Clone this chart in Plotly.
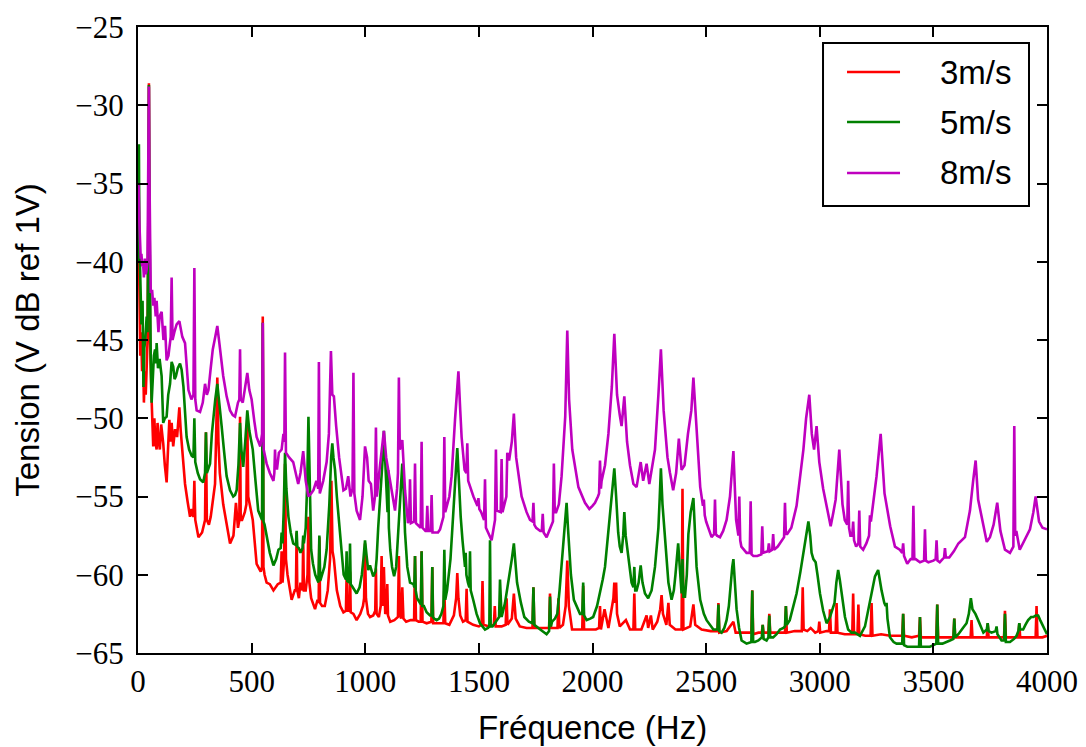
import plotly.graph_objects as go

# ---------------- data (frequency Hz, level dB ref 1V) ----------------
series_names = ["3m/s", "5m/s", "8m/s"]
series_colors = ["#ff0000", "#008000", "#bf00bf"]

pts_3ms = [(0,-40.0),(3,-35.6),(6,-41.5),(10,-46.0),(14,-44.5),(18,-47.0),(22,-45.6),(26,-49.0),(30,-47.0),(34,-48.5),(38,-46.8),(42,-45.0),(46,-36.0),(48,-28.6),(50,-36.0),(53,-45.0),(58,-48.0),(63,-50.5),(67,-51.8),(72,-50.0),(76,-51.5),(82,-52.0),(86,-50.3),(90,-51.3),(96,-52.0),(102,-50.4),(111,-51.6),(118,-53.0),(126,-54.1),(132,-52.0),(138,-50.1),(143,-51.5),(148,-50.3),(155,-51.8),(163,-50.7),(172,-51.2),(177,-50.2),(182,-49.3),(188,-50.8),(195,-52.0),(207,-54.2),(218,-55.3),(229,-56.3),(236,-55.8),(244,-56.3),(248,-54.0),(252,-56.5),(266,-57.6),(282,-57.3),(295,-56.5),(299,-50.9),(303,-56.5),(312,-56.8),(320,-56.3),(332,-55.0),(339,-54.2),(344,-51.0),(349,-47.4),(354,-51.5),(360,-53.5),(375,-55.5),(390,-56.9),(405,-58.0),(420,-57.5),(431,-55.4),(440,-57.0),(446,-56.5),(449,-49.9),(452,-56.5),(458,-56.5),(470,-56.0),(477,-55.5),(481,-49.9),(485,-55.0),(492,-55.5),(505,-56.5),(522,-59.3),(540,-59.8),(546,-59.5),(549,-43.5),(552,-59.5),(557,-60.0),(566,-60.5),(580,-60.6),(596,-61.0),(615,-60.6),(628,-60.5),(632,-58.5),(636,-60.5),(643,-59.0),(647,-52.9),(651,-59.0),(658,-60.0),(676,-61.6),(690,-61.0),(695,-61.0),(698,-57.3),(701,-61.0),(708,-61.5),(715,-60.5),(724,-61.0),(727,-57.8),(730,-61.0),(738,-61.0),(746,-60.0),(750,-56.3),(754,-60.5),(762,-61.5),(779,-62.2),(790,-61.6),(795,-61.8),(798,-57.6),(801,-61.8),(810,-62.0),(822,-62.0),(835,-61.0),(845,-59.0),(851,-54.0),(856,-58.5),(862,-59.0),(875,-61.0),(890,-62.0),(904,-62.4),(915,-62.3),(918,-60.0),(921,-62.3),(930,-62.3),(933,-59.8),(936,-62.4),(948,-62.5),(962,-62.9),(978,-62.5),(990,-62.0),(995,-61.5),(999,-58.0),(1003,-61.5),(1012,-62.5),(1021,-62.7),(1035,-62.6),(1044,-62.3),(1047,-59.6),(1050,-62.5),(1060,-62.7),(1068,-62.0),(1072,-58.8),(1076,-62.0),(1082,-59.5),(1088,-62.5),(1094,-62.3),(1097,-60.6),(1100,-62.6),(1110,-63.0),(1128,-62.9),(1144,-62.7),(1148,-58.8),(1152,-62.5),(1158,-62.8),(1163,-60.8),(1168,-62.8),(1180,-63.0),(1200,-62.9),(1215,-62.9),(1219,-58.8),(1223,-62.9),(1235,-63.0),(1244,-63.0),(1248,-58.5),(1252,-63.0),(1270,-63.1),(1291,-63.0),(1295,-59.5),(1299,-63.1),(1320,-63.1),(1344,-63.1),(1348,-60.9),(1352,-63.1),(1370,-63.2),(1390,-62.6),(1400,-61.5),(1405,-59.9),(1410,-61.5),(1418,-62.6),(1430,-63.0),(1442,-62.9),(1446,-60.9),(1450,-63.0),(1475,-63.2),(1500,-63.3),(1512,-63.2),(1516,-60.4),(1520,-63.2),(1545,-63.3),(1566,-63.2),(1570,-62.0),(1574,-63.3),(1600,-63.3),(1618,-63.2),(1622,-61.5),(1626,-63.2),(1645,-62.8),(1654,-61.2),(1662,-62.8),(1680,-63.3),(1710,-63.4),(1736,-63.4),(1740,-60.8),(1744,-63.4),(1775,-63.4),(1809,-63.4),(1813,-61.2),(1817,-63.4),(1846,-63.4),(1850,-61.5),(1854,-63.4),(1870,-63.2),(1882,-62.0),(1889,-59.1),(1896,-62.0),(1910,-63.5),(1935,-63.5),(1955,-63.5),(1959,-60.7),(1963,-63.5),(1990,-63.5),(2015,-63.5),(2029,-63.4),(2033,-62.0),(2037,-63.5),(2053,-62.2),(2070,-63.4),(2084,-62.3),(2092,-61.5),(2096,-60.5),(2100,-61.8),(2104,-60.5),(2108,-62.5),(2120,-63.3),(2147,-62.9),(2165,-63.5),(2180,-63.5),(2184,-61.2),(2188,-63.5),(2215,-63.5),(2238,-62.6),(2245,-63.4),(2257,-62.6),(2265,-63.5),(2285,-63.0),(2298,-62.2),(2304,-61.3),(2310,-62.5),(2325,-63.2),(2334,-61.8),(2340,-63.2),(2365,-63.5),(2392,-63.5),(2396,-54.5),(2400,-63.5),(2430,-63.3),(2444,-61.9),(2452,-63.2),(2480,-63.5),(2520,-63.6),(2550,-63.6),(2554,-61.8),(2558,-63.7),(2590,-63.6),(2620,-63.0),(2630,-63.7),(2665,-63.7),(2699,-63.7),(2703,-61.0),(2707,-63.8),(2730,-63.7),(2745,-63.7),(2749,-63.2),(2753,-63.7),(2774,-63.7),(2778,-62.5),(2782,-63.7),(2815,-63.7),(2847,-63.7),(2851,-62.0),(2855,-63.7),(2890,-63.6),(2921,-63.6),(2925,-60.8),(2929,-63.5),(2945,-63.6),(2960,-63.4),(2980,-63.7),(2994,-63.6),(2998,-63.0),(3002,-63.7),(3030,-63.6),(3041,-63.6),(3045,-62.2),(3049,-63.7),(3070,-63.7),(3074,-61.8),(3078,-63.7),(3110,-63.8),(3143,-63.8),(3147,-61.2),(3151,-63.8),(3166,-63.8),(3170,-61.9),(3174,-63.8),(3200,-63.9),(3224,-63.9),(3228,-61.8),(3232,-63.9),(3270,-63.8),(3310,-63.9),(3363,-63.9),(3367,-62.5),(3371,-63.9),(3405,-64.0),(3437,-63.9),(3441,-62.7),(3445,-64.0),(3480,-64.0),(3513,-64.0),(3517,-61.9),(3521,-64.0),(3555,-64.0),(3588,-64.0),(3592,-62.8),(3596,-64.0),(3630,-64.0),(3664,-64.0),(3668,-62.9),(3672,-64.0),(3700,-64.0),(3735,-64.0),(3739,-63.1),(3743,-64.0),(3780,-64.0),(3811,-64.0),(3815,-62.3),(3819,-64.0),(3850,-64.0),(3874,-64.0),(3878,-63.1),(3882,-64.0),(3920,-64.0),(3950,-64.0),(3954,-62.0),(3958,-64.0),(3980,-64.0),(4000,-63.9)]

pts_5ms = [(0,-40.0),(2,-36.0),(4,-32.5),(6,-38.5),(10,-41.0),(15,-44.0),(20,-42.5),(24,-48.0),(28,-45.5),(32,-45.0),(38,-43.5),(42,-44.5),(46,-36.0),(48,-28.7),(50,-36.0),(53,-43.0),(56,-46.0),(60,-49.0),(66,-47.5),(70,-46.0),(75,-45.6),(79,-46.5),(82,-45.2),(88,-46.8),(95,-46.2),(104,-47.3),(111,-50.3),(118,-50.0),(126,-49.9),(133,-48.5),(141,-47.8),(148,-46.4),(155,-46.7),(161,-47.5),(167,-47.3),(175,-46.8),(185,-46.5),(192,-46.9),(200,-48.0),(214,-51.2),(225,-52.0),(236,-52.4),(244,-52.5),(248,-50.0),(252,-52.8),(263,-53.5),(273,-53.9),(287,-54.1),(295,-53.5),(299,-50.9),(303,-53.5),(310,-53.2),(317,-52.9),(325,-51.0),(331,-49.9),(340,-48.8),(349,-47.8),(356,-49.0),(368,-50.5),(378,-52.0),(390,-53.7),(405,-54.6),(419,-55.0),(427,-54.9),(434,-54.6),(442,-53.0),(449,-50.3),(455,-52.0),(463,-53.1),(472,-51.5),(481,-49.5),(490,-50.8),(505,-52.0),(517,-54.0),(529,-55.9),(540,-56.3),(546,-56.5),(549,-43.9),(552,-56.6),(557,-56.8),(566,-57.5),(580,-58.6),(596,-59.4),(608,-59.0),(618,-58.4),(628,-58.3),(632,-57.3),(636,-58.0),(641,-56.0),(647,-52.2),(653,-54.5),(662,-56.3),(672,-57.3),(683,-58.0),(695,-58.1),(698,-57.2),(701,-58.2),(708,-58.3),(715,-58.6),(724,-58.3),(727,-57.5),(730,-58.0),(738,-57.0),(745,-54.0),(750,-49.9),(755,-54.5),(762,-58.4),(770,-59.3),(780,-60.0),(794,-60.5),(798,-57.5),(802,-60.4),(810,-60.0),(820,-59.5),(830,-58.4),(842,-55.5),(850,-52.5),(855,-51.6),(860,-52.5),(867,-53.3),(875,-55.0),(890,-57.6),(905,-60.0),(915,-60.3),(918,-58.5),(921,-60.4),(930,-60.5),(933,-58.0),(936,-60.6),(945,-60.8),(962,-61.2),(975,-60.8),(985,-60.0),(992,-59.0),(999,-57.8),(1006,-58.8),(1013,-59.7),(1021,-59.4),(1035,-60.1),(1045,-59.8),(1050,-59.0),(1057,-57.0),(1066,-55.0),(1072,-54.2),(1077,-52.5),(1082,-50.8),(1088,-52.5),(1094,-54.2),(1098,-56.0),(1101,-53.3),(1104,-57.0),(1110,-58.4),(1118,-59.5),(1127,-60.1),(1136,-59.5),(1145,-57.3),(1150,-56.0),(1156,-54.5),(1163,-52.9),(1170,-55.0),(1175,-57.3),(1185,-59.5),(1197,-60.5),(1212,-60.6),(1216,-60.8),(1219,-58.8),(1222,-61.0),(1228,-61.5),(1240,-61.8),(1245,-61.9),(1248,-58.5),(1251,-62.0),(1258,-62.0),(1270,-62.4),(1285,-62.6),(1292,-62.6),(1295,-59.5),(1298,-62.7),(1303,-62.8),(1314,-62.9),(1325,-62.8),(1335,-62.5),(1344,-62.0),(1348,-58.4),(1352,-61.6),(1360,-61.0),(1375,-59.0),(1388,-56.3),(1396,-54.0),(1405,-51.9),(1412,-54.0),(1420,-56.3),(1428,-57.8),(1435,-59.0),(1439,-59.5),(1442,-58.6),(1445,-60.0),(1452,-60.5),(1458,-60.8),(1461,-58.5),(1464,-61.0),(1475,-61.6),(1490,-62.5),(1505,-63.1),(1527,-63.5),(1540,-63.4),(1546,-63.3),(1549,-57.8),(1552,-63.3),(1560,-63.3),(1575,-63.0),(1589,-62.7),(1593,-60.3),(1597,-62.7),(1600,-62.7),(1615,-61.8),(1630,-60.5),(1645,-59.0),(1654,-58.0),(1660,-59.0),(1668,-60.5),(1685,-61.8),(1700,-62.7),(1720,-63.0),(1736,-63.1),(1740,-60.8),(1744,-63.2),(1770,-63.5),(1798,-63.8),(1809,-63.6),(1813,-61.4),(1817,-63.3),(1822,-63.0),(1835,-62.8),(1845,-62.5),(1855,-61.0),(1864,-59.5),(1875,-57.5),(1886,-55.4),(1892,-57.0),(1897,-58.4),(1905,-60.0),(1918,-61.6),(1935,-62.2),(1945,-62.5),(1955,-62.5),(1959,-60.5),(1963,-62.6),(1974,-62.9),(1990,-62.8),(2003,-62.7),(2020,-62.0),(2033,-61.2),(2045,-60.3),(2055,-59.5),(2068,-57.5),(2077,-56.3),(2088,-54.5),(2096,-53.2),(2104,-55.0),(2113,-57.3),(2120,-58.2),(2128,-58.6),(2135,-57.5),(2140,-56.0),(2146,-57.5),(2158,-59.0),(2172,-60.5),(2180,-60.8),(2184,-59.5),(2188,-61.0),(2194,-61.0),(2203,-60.5),(2212,-59.4),(2220,-60.5),(2231,-61.2),(2245,-61.5),(2260,-61.0),(2275,-59.5),(2290,-57.0),(2296,-55.0),(2301,-53.2),(2308,-55.5),(2319,-57.8),(2334,-60.5),(2348,-61.6),(2358,-61.0),(2365,-60.0),(2372,-59.0),(2377,-58.0),(2384,-59.5),(2392,-61.2),(2396,-59.0),(2400,-61.4),(2407,-61.4),(2415,-60.0),(2422,-57.4),(2432,-56.0),(2444,-55.1),(2450,-57.0),(2458,-59.5),(2474,-61.6),(2490,-62.5),(2502,-62.9),(2520,-63.3),(2532,-63.5),(2550,-63.5),(2554,-61.9),(2558,-63.6),(2568,-63.7),(2580,-63.4),(2590,-62.9),(2600,-62.0),(2608,-60.5),(2615,-59.5),(2620,-59.0),(2626,-60.5),(2634,-62.2),(2645,-63.4),(2656,-64.2),(2678,-64.4),(2699,-64.3),(2703,-61.0),(2707,-64.3),(2715,-64.3),(2730,-64.2),(2745,-64.0),(2749,-63.2),(2753,-64.1),(2766,-64.2),(2774,-64.0),(2778,-62.6),(2782,-64.0),(2795,-64.0),(2810,-63.8),(2825,-63.5),(2840,-63.4),(2847,-63.3),(2851,-62.0),(2855,-63.2),(2868,-62.9),(2885,-62.0),(2898,-61.2),(2915,-59.8),(2928,-58.6),(2940,-57.3),(2950,-56.6),(2958,-57.5),(2964,-58.6),(2972,-59.0),(2982,-59.2),(2990,-60.0),(3001,-61.2),(3015,-62.3),(3030,-63.1),(3045,-62.7),(3055,-62.3),(3065,-61.8),(3073,-60.5),(3081,-59.7),(3088,-60.3),(3096,-61.2),(3111,-62.7),(3125,-63.5),(3140,-63.7),(3155,-63.7),(3177,-63.9),(3199,-63.3),(3210,-62.5),(3221,-61.8),(3232,-61.0),(3243,-60.1),(3257,-59.7),(3265,-60.5),(3272,-61.0),(3284,-61.8),(3290,-62.0),(3294,-61.8),(3298,-62.8),(3309,-64.0),(3325,-64.3),(3338,-64.4),(3355,-64.4),(3363,-64.4),(3367,-62.5),(3371,-64.5),(3385,-64.6),(3397,-64.6),(3420,-64.6),(3437,-64.6),(3441,-62.7),(3445,-64.6),(3465,-64.6),(3485,-64.6),(3500,-64.5),(3513,-64.4),(3517,-61.9),(3521,-64.4),(3540,-64.4),(3560,-64.3),(3573,-64.2),(3588,-64.1),(3592,-62.8),(3596,-64.0),(3610,-63.8),(3630,-63.4),(3646,-63.1),(3656,-62.5),(3665,-61.5),(3672,-62.2),(3685,-62.5),(3697,-62.9),(3710,-63.4),(3720,-63.7),(3735,-63.5),(3739,-63.1),(3743,-63.6),(3756,-63.7),(3774,-63.6),(3778,-63.3),(3782,-63.8),(3800,-64.2),(3811,-64.2),(3815,-62.5),(3819,-64.3),(3837,-64.3),(3855,-64.1),(3866,-63.9),(3874,-63.6),(3878,-63.1),(3882,-63.5),(3895,-63.5),(3905,-63.2),(3917,-62.9),(3930,-62.7),(3940,-62.7),(3950,-62.6),(3961,-62.6),(3970,-62.9),(3976,-63.1),(3985,-63.3),(3991,-63.6),(4000,-63.8)]

pts_8ms = [(0,-35.0),(3,-35.2),(6,-37.5),(8,-38.5),(12,-39.8),(15,-39.5),(19,-40.3),(22,-40.0),(26,-41.0),(30,-39.8),(34,-40.8),(38,-40.5),(42,-40.0),(45,-34.0),(48,-28.8),(50,-34.0),(53,-39.0),(56,-42.0),(62,-41.8),(67,-42.8),(72,-42.3),(78,-43.5),(82,-42.5),(86,-44.0),(90,-44.5),(95,-43.5),(104,-43.2),(112,-45.0),(119,-44.1),(126,-46.3),(134,-46.0),(138,-45.5),(144,-44.8),(148,-41.0),(152,-45.0),(160,-44.5),(170,-44.0),(182,-43.8),(195,-44.8),(207,-45.2),(215,-47.0),(222,-48.2),(235,-48.8),(244,-48.5),(248,-40.4),(252,-48.8),(258,-49.5),(273,-49.6),(285,-49.0),(295,-47.8),(303,-48.5),(310,-48.2),(320,-46.8),(329,-45.6),(340,-44.8),(349,-44.1),(358,-45.2),(375,-47.3),(390,-48.6),(405,-49.5),(417,-49.8),(427,-49.9),(440,-49.0),(446,-48.8),(449,-45.6),(452,-48.8),(461,-49.0),(472,-48.0),(481,-47.1),(490,-48.2),(500,-48.8),(512,-50.2),(522,-51.2),(538,-51.8),(546,-51.0),(549,-43.9),(553,-52.0),(566,-52.9),(580,-53.5),(596,-54.0),(600,-53.5),(603,-52.0),(606,-53.2),(612,-53.2),(620,-52.2),(632,-52.0),(640,-51.0),(644,-51.5),(647,-45.8),(651,-52.2),(665,-52.5),(683,-52.8),(695,-53.5),(705,-54.2),(715,-53.5),(727,-52.1),(738,-54.0),(750,-55.0),(762,-54.8),(772,-54.6),(785,-54.0),(793,-54.5),(796,-46.4),(800,-54.8),(815,-54.0),(830,-52.8),(840,-51.0),(849,-45.7),(855,-48.5),(862,-48.6),(872,-50.5),(885,-52.5),(904,-54.6),(915,-54.5),(925,-53.7),(935,-55.0),(944,-54.5),(948,-47.1),(952,-54.8),(962,-55.9),(977,-56.5),(988,-55.0),(999,-51.8),(1008,-52.5),(1015,-54.0),(1025,-54.2),(1035,-55.9),(1043,-55.0),(1047,-50.6),(1051,-55.0),(1065,-53.0),(1082,-50.8),(1092,-52.5),(1101,-53.3),(1110,-54.1),(1131,-55.9),(1140,-54.5),(1144,-53.5),(1148,-47.4),(1152,-52.0),(1163,-51.4),(1175,-54.6),(1188,-56.7),(1193,-56.5),(1197,-53.9),(1201,-56.7),(1215,-56.6),(1219,-52.9),(1223,-56.7),(1240,-57.0),(1244,-57.0),(1248,-51.5),(1252,-57.0),(1265,-57.2),(1269,-57.2),(1273,-55.6),(1277,-57.2),(1288,-57.2),(1292,-54.9),(1296,-57.3),(1307,-57.3),(1320,-57.3),(1329,-57.1),(1340,-56.5),(1344,-56.3),(1348,-51.2),(1352,-56.0),(1370,-55.0),(1380,-53.7),(1395,-50.1),(1410,-47.0),(1418,-49.5),(1424,-51.2),(1437,-53.3),(1445,-53.5),(1449,-51.6),(1453,-54.0),(1476,-55.0),(1490,-55.5),(1494,-55.6),(1498,-55.1),(1502,-55.8),(1510,-56.0),(1523,-56.5),(1527,-53.9),(1531,-57.0),(1556,-57.8),(1571,-56.5),(1575,-52.0),(1579,-55.9),(1596,-56.0),(1600,-52.6),(1604,-56.0),(1621,-55.0),(1625,-52.2),(1633,-52.7),(1645,-51.5),(1654,-49.7),(1664,-52.5),(1688,-55.0),(1710,-56.0),(1725,-56.5),(1736,-56.6),(1740,-55.4),(1744,-56.8),(1752,-57.0),(1770,-57.2),(1777,-57.2),(1781,-56.1),(1785,-57.3),(1798,-57.6),(1815,-57.0),(1826,-56.6),(1830,-52.9),(1834,-56.0),(1840,-56.0),(1852,-55.5),(1864,-53.7),(1880,-49.9),(1889,-44.4),(1897,-48.8),(1911,-52.0),(1938,-54.4),(1967,-55.4),(1986,-55.8),(2000,-55.6),(2011,-55.4),(2024,-55.0),(2029,-54.8),(2033,-52.7),(2037,-54.5),(2040,-54.0),(2055,-53.0),(2070,-51.0),(2085,-48.0),(2096,-44.6),(2108,-48.5),(2120,-49.8),(2128,-50.5),(2140,-48.6),(2152,-51.5),(2165,-53.0),(2180,-54.2),(2194,-54.4),(2212,-52.8),(2223,-54.0),(2238,-52.9),(2250,-54.2),(2262,-53.2),(2275,-52.0),(2290,-48.5),(2301,-45.6),(2313,-49.5),(2330,-52.5),(2341,-53.5),(2355,-54.6),(2368,-53.5),(2380,-51.3),(2392,-53.3),(2405,-53.0),(2420,-51.0),(2435,-49.5),(2444,-47.4),(2458,-51.0),(2474,-54.4),(2486,-55.6),(2490,-55.2),(2494,-56.2),(2500,-56.6),(2524,-57.6),(2535,-57.4),(2539,-55.2),(2543,-57.4),(2548,-57.5),(2561,-57.6),(2575,-57.2),(2590,-56.5),(2605,-55.0),(2620,-52.1),(2632,-56.5),(2642,-57.5),(2646,-55.0),(2650,-57.8),(2655,-58.2),(2678,-58.6),(2692,-58.6),(2696,-55.3),(2700,-58.7),(2708,-58.8),(2725,-58.8),(2743,-58.7),(2747,-56.9),(2751,-58.6),(2772,-58.5),(2776,-58.0),(2780,-58.5),(2791,-58.4),(2795,-57.4),(2799,-58.4),(2815,-58.2),(2835,-57.8),(2843,-57.6),(2847,-55.4),(2851,-57.4),(2857,-57.4),(2875,-57.0),(2898,-55.6),(2915,-53.5),(2928,-52.0),(2940,-50.0),(2954,-48.5),(2965,-51.0),(2975,-52.0),(2986,-50.5),(2998,-52.8),(3015,-54.5),(3030,-55.6),(3048,-56.9),(3060,-56.0),(3070,-55.2),(3086,-52.0),(3100,-55.5),(3110,-56.5),(3121,-56.8),(3125,-54.0),(3129,-57.0),(3135,-57.5),(3143,-57.5),(3147,-56.6),(3151,-57.8),(3160,-58.2),(3170,-58.0),(3174,-55.9),(3178,-58.2),(3191,-58.4),(3205,-58.0),(3217,-57.5),(3221,-56.2),(3225,-56.6),(3235,-55.5),(3250,-53.7),(3268,-51.0),(3285,-54.8),(3310,-56.9),(3331,-58.2),(3352,-58.4),(3363,-58.6),(3367,-58.0),(3371,-58.8),(3385,-59.3),(3400,-59.0),(3408,-59.0),(3412,-55.6),(3416,-59.0),(3422,-59.0),(3441,-59.2),(3459,-59.1),(3463,-57.1),(3467,-59.1),(3478,-59.2),(3500,-59.1),(3510,-59.0),(3514,-57.8),(3518,-59.1),(3528,-59.2),(3547,-58.9),(3551,-58.3),(3555,-58.9),(3570,-58.9),(3590,-58.5),(3610,-58.0),(3639,-57.6),(3661,-55.9),(3675,-54.0),(3686,-52.7),(3697,-55.2),(3715,-56.6),(3735,-57.9),(3749,-57.6),(3765,-56.8),(3781,-55.4),(3795,-57.2),(3815,-58.4),(3837,-58.6),(3852,-58.2),(3856,-50.5),(3860,-57.5),(3865,-57.2),(3880,-58.4),(3900,-57.8),(3925,-57.1),(3940,-56.0),(3950,-55.0),(3965,-56.6),(3980,-57.0),(4000,-57.1)]

series_points = [pts_3ms, pts_5ms, pts_8ms]

x_ticks = [0, 500, 1000, 1500, 2000, 2500, 3000, 3500, 4000]
y_ticks = [-65, -60, -55, -50, -45, -40, -35, -30, -25]

fig = go.Figure()
for name, color, pts in zip(series_names, series_colors, series_points):
    fig.add_trace(go.Scatter(
        x=[p[0] for p in pts], y=[p[1] for p in pts],
        mode="lines", name=name, showlegend=False,
        line=dict(color=color, width=2.6),
    ))

tick_font = dict(family="Liberation Serif", size=31, color="black")
title_font = dict(family="Liberation Sans", size=33, color="black")
axis_common = dict(
    showline=True, linewidth=2, linecolor="black", mirror="ticks",
    ticks="inside", ticklen=10, tickwidth=1.5, tickcolor="black",
    showgrid=False, zeroline=False, tickfont=tick_font,
)
fig.update_xaxes(range=[0, 4000], tickvals=x_ticks, ticktext=[str(v) for v in x_ticks],
                 title=dict(text="Fréquence (Hz)", font=title_font, standoff=18),
                 ticklabelstandoff=0, **axis_common)
fig.update_yaxes(range=[-65, -25], tickvals=y_ticks, ticktext=["\u2212" + str(-v) for v in y_ticks],
                 title=dict(text="Tension (V dB ref 1V)", font=title_font, standoff=26),
                 ticklabelstandoff=6, **axis_common)

# legend drawn as a framed box (matching the reference layout)
lx0, lx1, ly0, ly1 = 0.7536, 0.9802, 0.7141, 0.9744
shapes = [dict(type="rect", xref="paper", yref="paper", x0=lx0, x1=lx1, y0=ly0, y1=ly1,
               line=dict(color="black", width=2), fillcolor="white", layer="above")]
annotations = []
row_y = [0.9281, 0.8482, 0.7668]
for name, color, yy in zip(series_names, series_colors, row_y):
    shapes.append(dict(type="line", xref="paper", yref="paper", x0=0.780, x1=0.8383, y0=yy, y1=yy,
                       line=dict(color=color, width=2.5), layer="above"))
    annotations.append(dict(xref="paper", yref="paper", x=0.8801, y=yy, text=name, showarrow=False,
                            xanchor="left", yanchor="middle",
                            font=dict(family="Liberation Sans", size=33, color="black")))

# the page body adds an 8 px margin, so the figure is sized to fit the 1086x747 window
fig.update_layout(
    width=1078, height=739,
    margin=dict(l=130, r=39, t=19, b=94, autoexpand=False),
    paper_bgcolor="white", plot_bgcolor="white",
    shapes=shapes, annotations=annotations,
)
fig.write_html("out.html")
